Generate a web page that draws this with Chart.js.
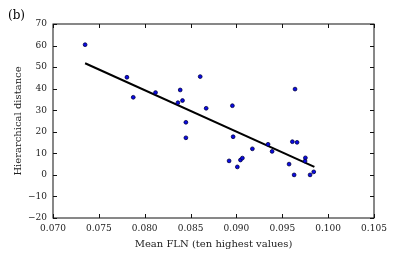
<!DOCTYPE html>
<html>
<head>
<meta charset="utf-8">
<script src="https://cdn.jsdelivr.net/npm/chart.js@4/dist/chart.umd.min.js"></script>
<style>
  html, body { margin: 0; padding: 0; background: #fff; }
  #wrap { position: relative; width: 415px; height: 257px; }
</style>
</head>
<body>
<div id="wrap"><canvas id="fln-scatter"></canvas></div>
<script>
// Mean FLN (x) vs hierarchical distance (y)
const flnValues = [0.0735, 0.07806, 0.07875, 0.08118, 0.08387, 0.08362, 0.08412, 0.08605, 0.0867, 0.08449,
    0.08449, 0.08956, 0.09639, 0.08964, 0.0892, 0.0901, 0.09044, 0.09065, 0.09174, 0.09345,
    0.09389, 0.0961, 0.09661, 0.09574, 0.09629, 0.09752, 0.09748, 0.09803, 0.09843];
const distValues = [60.4, 45.3, 36.0, 38.2, 39.4, 33.5, 34.5, 45.6, 30.9, 24.4,
    17.2, 32.1, 39.8, 17.7, 6.5, 3.7, 6.9, 7.8, 12.1, 14.2,
    10.9, 15.4, 15.1, 5.0, 0.0, 7.9, 6.4, 0.0, 1.4];

// end points of the regression line
const fitX = [0.0735, 0.0985];
const fitY = [51.8, 3.7];

const panelLabel = "(b)";
const xTitle = "Mean FLN (ten highest values)";
const yTitle = "Hierarchical distance";

const serif = "'DejaVu Serif', serif";

window.addEventListener("DOMContentLoaded", () => {

    const points = flnValues.map((v, i) => ({ x: v, y: distValues[i] }));
    const fit = fitX.map((v, i) => ({ x: v, y: fitY[i] }));

    // box round the plot with inward ticks on all four sides
    const frameTicks = {
        id: "frameTicks",
        afterDatasetsDraw(chart) {
            const { ctx, chartArea: a, scales: { x, y } } = chart;
            const len = 4;
            ctx.save();
            ctx.strokeStyle = "#111";
            ctx.lineWidth = 1;
            ctx.strokeRect(a.left, a.top, a.width, a.height);
            ctx.beginPath();
            x.ticks.forEach(t => {
                const px = Math.round(x.getPixelForValue(t.value)) + 0.5;
                ctx.moveTo(px, a.bottom); ctx.lineTo(px, a.bottom - len);
                ctx.moveTo(px, a.top); ctx.lineTo(px, a.top + len);
            });
            y.ticks.forEach(t => {
                const py = Math.round(y.getPixelForValue(t.value)) + 0.5;
                ctx.moveTo(a.left, py); ctx.lineTo(a.left + len, py);
                ctx.moveTo(a.right, py); ctx.lineTo(a.right - len, py);
            });
            ctx.stroke();

            ctx.fillStyle = "#000";
            ctx.font = "12px " + serif;
            ctx.textAlign = "left";
            ctx.textBaseline = "middle";
            ctx.fillText(panelLabel, 8, 16);
            ctx.restore();
        }
    };

    const config = {
        type: "scatter",
        data: {
            datasets: [
                {
                    label: "areas",
                    data: points,
                    backgroundColor: "#0a0ae6",
                    borderColor: "#000040",
                    borderWidth: 0.8,
                    pointRadius: 1.9
                },
                {
                    label: "fit",
                    type: "line",
                    data: fit,
                    borderColor: "#000",
                    borderWidth: 2,
                    pointRadius: 0,
                    fill: false
                }
            ]
        },
        options: {
            responsive: true,
            maintainAspectRatio: false,
            animation: false,
            layout: {
                padding: { top: 24, right: 41, bottom: 0, left: 0 }
            },
            plugins: {
                legend: { display: false },
                tooltip: { enabled: false }
            },
            scales: {
                x: {
                    type: "linear",
                    min: 0.070,
                    max: 0.105,
                    grid: { display: false, drawTicks: false },
                    border: { display: false },
                    ticks: {
                        stepSize: 0.005,
                        padding: 5,
                        color: "#222",
                        font: { family: serif, size: 9 },
                        maxRotation: 0,
                        callback: v => v.toFixed(3)
                    },
                    title: {
                        display: true,
                        text: xTitle,
                        color: "#222",
                        font: { family: serif, size: 10 },
                        padding: { top: 0, bottom: 7 }
                    },
                    afterFit: s => { s.height = 39; }
                },
                y: {
                    min: -20,
                    max: 70,
                    grid: { display: false, drawTicks: false },
                    border: { display: false },
                    ticks: {
                        stepSize: 10,
                        padding: 6,
                        color: "#222",
                        font: { family: serif, size: 9 },
                        callback: v => String(v).replace("-", "\u2212")
                    },
                    title: {
                        display: true,
                        text: yTitle,
                        color: "#222",
                        font: { family: serif, size: 10 },
                        padding: { top: 12, bottom: 0 }
                    },
                    afterFit: s => { s.width = 53; }
                }
            }
        },
        plugins: [frameTicks]
    };

    new Chart(document.getElementById("fln-scatter").getContext("2d"), config);
});
</script>
</body>
</html>
